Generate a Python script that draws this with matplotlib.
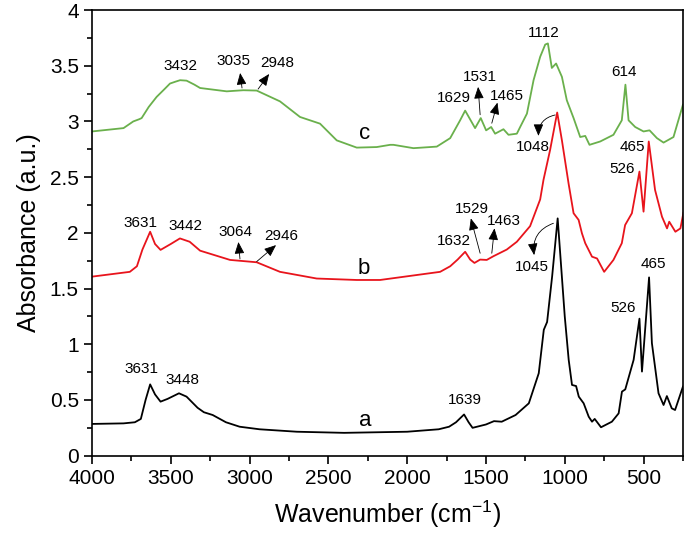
import matplotlib
matplotlib.use("Agg")
import matplotlib.pyplot as plt

plt.rcParams['font.family'] = ['Liberation Sans', 'DejaVu Sans']
plt.rcParams['mathtext.fontset'] = 'custom'
plt.rcParams['mathtext.rm'] = 'Liberation Sans'
plt.rcParams['mathtext.default'] = 'regular'

# ---- data (wavenumber cm-1, absorbance) ----
a_wn = [4000, 3800, 3728, 3690, 3660, 3631, 3600, 3565, 3520, 3448, 3400, 3330, 3290, 3234,
        3150, 3063, 2937, 2700, 2400, 2000, 1800, 1734, 1690, 1639, 1610, 1585, 1500, 1449,
        1400, 1312, 1228, 1165, 1133, 1112, 1080, 1045, 1000, 975, 954, 928, 911, 880, 848,
        827, 810, 770, 701, 658, 637, 616, 563, 526, 510, 465, 447, 405, 373, 352, 321, 300, 250]
a_ab = [0.285, 0.29, 0.30, 0.33, 0.50, 0.64, 0.55, 0.485, 0.51, 0.56, 0.53, 0.43, 0.39, 0.365,
        0.30, 0.26, 0.237, 0.215, 0.205, 0.215, 0.237, 0.26, 0.30, 0.37, 0.30, 0.25, 0.28, 0.31,
        0.305, 0.365, 0.47, 0.74, 1.13, 1.20, 1.61, 2.13, 1.25, 0.86, 0.635, 0.625, 0.53, 0.47, 0.35,
        0.305, 0.33, 0.255, 0.305, 0.38, 0.575, 0.595, 0.86, 1.23, 0.755, 1.60, 1.01, 0.56, 0.455,
        0.535, 0.425, 0.41, 0.62]

b_wn = [4000, 3760, 3715, 3680, 3631, 3600, 3565, 3500, 3442, 3380, 3314, 3124, 2955, 2807,
        2574, 2320, 2172, 1791, 1727, 1680, 1632, 1600, 1573, 1537, 1495, 1453, 1368, 1304,
        1220, 1156, 1135, 1093, 1048, 1018, 976, 944, 912, 891, 870, 827, 795, 750, 691, 638,
        617, 574, 526, 500, 467, 427, 383, 351, 337, 298, 266, 247]
b_ab = [1.607, 1.65, 1.70, 1.85, 2.01, 1.90, 1.847, 1.90, 1.95, 1.92, 1.84, 1.757, 1.736, 1.65,
        1.59, 1.577, 1.577, 1.65, 1.70, 1.76, 1.83, 1.76, 1.73, 1.76, 1.757, 1.79, 1.85, 1.92,
        2.06, 2.30, 2.475, 2.744, 3.08, 2.83, 2.445, 2.176, 2.116, 1.996, 1.907, 1.786, 1.77,
        1.65, 1.757, 1.907, 2.07, 2.176, 2.55, 2.19, 2.82, 2.385, 2.145, 2.04, 2.10, 2.01, 2.04, 2.18]

c_wn = [4000, 3800, 3738, 3700, 3685, 3640, 3590, 3540, 3505, 3470, 3441, 3400, 3350, 3314,
        3145, 3040, 2955, 2807, 2680, 2553, 2447, 2320, 2193, 2108, 2087, 1960, 1812, 1727,
        1664, 1632, 1569, 1533, 1499, 1467, 1442, 1389, 1357, 1304, 1283, 1240, 1198, 1156,
        1124, 1107, 1082, 1055, 1018, 987, 944, 902, 870, 843, 775, 691, 638, 615, 595, 553,
        500, 462, 415, 373, 310, 250]
c_ab = [2.91, 2.94, 3.00, 3.02, 3.03, 3.13, 3.22, 3.29, 3.34, 3.357, 3.37, 3.366, 3.33, 3.30,
        3.27, 3.28, 3.277, 3.18, 3.04, 2.98, 2.83, 2.765, 2.77, 2.79, 2.79, 2.76, 2.774, 2.85,
        3.01, 3.097, 2.94, 3.03, 2.92, 2.95, 2.89, 2.93, 2.88, 2.89, 2.95, 3.07, 3.37, 3.58,
        3.69, 3.70, 3.48, 3.52, 3.40, 3.19, 3.03, 2.86, 2.87, 2.79, 2.82, 2.88, 3.01, 3.33,
        3.01, 2.95, 2.91, 2.92, 2.85, 2.81, 2.86, 3.15]

# peak labels: (text, x, y)
peak_labels = [
    ("3432", 3441, 3.50), ("3035", 3105, 3.54), ("2948", 2826, 3.525),
    ("3631", 3695, 2.09), ("3442", 3410, 2.06), ("3064", 3088, 2.008), ("2946", 2796, 1.97),
    ("3631", 3685, 0.778), ("3448", 3424, 0.68),
    ("1629", 1706, 3.214), ("1531", 1541, 3.397), ("1465", 1367, 3.229),
    ("1112", 1135, 3.79), ("614", 623, 3.447), ("1048", 1203, 2.774),
    ("1632", 1706, 1.927), ("1529", 1590, 2.212), ("1463", 1389, 2.107),
    ("465", 574, 2.774), ("526", 637, 2.571), ("1045", 1209, 1.697),
    ("465", 437, 1.721), ("526", 631, 1.323), ("1639", 1632, 0.50),
]
# straight arrows: (x_from, y_from, x_to, y_to)
straight_arrows = [
    (3048, 3.30, 3060, 3.435), (2946, 3.29, 2876, 3.426),
    (3061, 1.766, 3071, 1.918), (2955, 1.742, 2832, 1.89),
    (1537, 3.06, 1550, 3.31), (1463, 2.984, 1427, 3.169),
    (1537, 1.817, 1596, 2.13), (1463, 1.817, 1446, 2.041),
]
curved_arrows = [
    (1061, 3.058, 1167, 2.87), (1072, 2.086, 1194, 1.80),
]
curve_labels = [("a", 2267, 0.32), ("b", 2273, 1.682), ("c", 2267, 2.894)]

fig = plt.figure(figsize=(6.85, 5.38), dpi=100)
ax = fig.add_axes([0.1343, 0.153, 0.8627, 0.8284])

ax.plot(a_wn, a_ab, color='black', lw=1.3)
ax.plot(b_wn, b_ab, color='#e8141c', lw=1.3)
ax.plot(c_wn, c_ab, color='#6ab04c', lw=1.3)

ax.set_xlim(4000, 250)
ax.set_ylim(0, 4)
ax.set_xticks([4000, 3500, 3000, 2500, 2000, 1500, 1000, 500])
ax.set_xticks(list(range(3750, 249, -500)), minor=True)
ax.set_yticks([0, 0.5, 1, 1.5, 2, 2.5, 3, 3.5, 4])
ax.set_yticklabels(['0', '0.5', '1', '1.5', '2', '2.5', '3', '3.5', '4'])
ax.set_yticks([0.25, 0.75, 1.25, 1.75, 2.25, 2.75, 3.25, 3.75], minor=True)
ax.tick_params(axis='both', which='major', direction='out', length=6, width=1.2, labelsize=15,
               top=False, right=False)
ax.tick_params(axis='both', which='minor', direction='out', length=3.5, width=1.2,
               top=False, right=False)
for s in ax.spines.values():
    s.set_linewidth(1.2)

ax.set_xlabel('Wavenumber (cm$^{\\mathregular{-1}}$)', fontsize=18, labelpad=8)
ax.set_ylabel('Absorbance (a.u.)', fontsize=18, labelpad=6)

astyle = '-|>,head_length=0.6,head_width=0.25'
for t, x, y in peak_labels:
    ax.text(x, y, t, fontsize=11, ha='center', va='center')
for x0, y0, x1, y1 in straight_arrows:
    ax.annotate('', xy=(x1, y1), xytext=(x0, y0),
                arrowprops=dict(arrowstyle=astyle, color='black', lw=0.6, mutation_scale=12,
                                shrinkA=0, shrinkB=0))
for x0, y0, x1, y1 in curved_arrows:
    ax.annotate('', xy=(x1, y1), xytext=(x0, y0),
                arrowprops=dict(arrowstyle=astyle, color='black', lw=0.6, mutation_scale=12,
                                shrinkA=0, shrinkB=0, connectionstyle='arc3,rad=0.4'))
for t, x, y in curve_labels:
    ax.text(x, y, t, fontsize=16, ha='center', va='center')

fig.savefig('out.png', dpi=100)
